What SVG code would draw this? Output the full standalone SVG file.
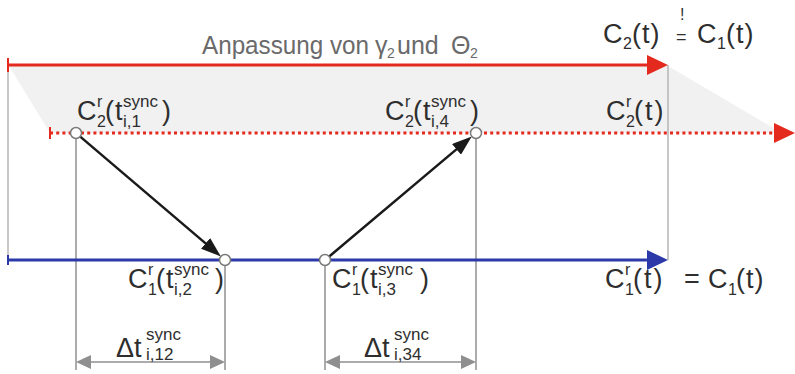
<svg xmlns="http://www.w3.org/2000/svg" width="795" height="374" viewBox="0 0 795 374">
<style>
text{font-family:"Liberation Sans",Arial,sans-serif;fill:#2e2e2e}
.m{font-size:27px}
.p{font-size:27px;letter-spacing:1px}
.p2{font-size:27px;letter-spacing:2px}
.s{font-size:16px}
.ix{font-size:17px}
.t{font-size:25px;fill:#6a6a6a}
.ts{font-size:14px;fill:#6a6a6a}
.gl{stroke:#8f8f8f;stroke-width:1.5;fill:none}
.lg{stroke:#b5b5b5;stroke-width:1.5;fill:none}
.pt{fill:#fff;stroke:#7a7a7a;stroke-width:1.5}
</style>
<defs>
<marker id="arR" markerUnits="userSpaceOnUse" viewBox="0 0 21 20" markerWidth="21" markerHeight="20" refX="11" refY="10" orient="auto"><path d="M0,0 L21,10 L0,20 z" fill="#e42a1f"/></marker>
<marker id="arB" markerUnits="userSpaceOnUse" viewBox="0 0 21 20" markerWidth="21" markerHeight="20" refX="11" refY="10" orient="auto"><path d="M0,0 L21,10 L0,20 z" fill="#2b3aa8"/></marker>
<marker id="arK" markerUnits="userSpaceOnUse" viewBox="0 0 20 14" markerWidth="20" markerHeight="14" refX="10" refY="7" orient="auto"><path d="M0,0 L20,7 L0,14 z" fill="#1a1a1a"/></marker>
<marker id="arG" markerUnits="userSpaceOnUse" viewBox="0 0 15 14" markerWidth="15" markerHeight="14" refX="7" refY="7" orient="auto-start-reverse"><path d="M0,0 L15,7 L0,14 z" fill="#8f8f8f"/></marker>
</defs>

<g id="band">
<polygon points="9,66 668,66 782,133 50,133" fill="#f1f1f1"/>
</g>

<g id="guides">
<line class="lg" x1="8" y1="65" x2="8" y2="260"/>
<line class="lg" x1="668" y1="65" x2="668" y2="260"/>
<line class="gl" x1="76" y1="138" x2="76" y2="370"/>
<line class="gl" x1="225" y1="265" x2="225" y2="370"/>
<line class="gl" x1="325" y1="265" x2="325" y2="370"/>
<line class="gl" x1="476" y1="138" x2="476" y2="370"/>
</g>

<g id="connectors">
<line x1="8" y1="65" x2="658" y2="65" stroke="#e42a1f" stroke-width="3" marker-end="url(#arR)"/>
<line x1="8" y1="58" x2="8" y2="72" stroke="#e42a1f" stroke-width="2"/>
<line x1="50" y1="133" x2="785" y2="133" stroke="#e42a1f" stroke-width="3" stroke-dasharray="3 3.2" marker-end="url(#arR)"/>
<line x1="50" y1="127" x2="50" y2="139" stroke="#e42a1f" stroke-width="2"/>
<line x1="8" y1="260" x2="658" y2="260" stroke="#2b3aa8" stroke-width="3" marker-end="url(#arB)"/>
<line x1="8" y1="255" x2="8" y2="265" stroke="#2b3aa8" stroke-width="2"/>
<line x1="80.2" y1="136.6" x2="213.2" y2="249.9" stroke="#1a1a1a" stroke-width="2.5" marker-end="url(#arK)"/>
<line x1="329.2" y1="256.5" x2="464.1" y2="142.9" stroke="#1a1a1a" stroke-width="2.5" marker-end="url(#arK)"/>
<line class="gl" x1="84" y1="362" x2="217" y2="362" marker-start="url(#arG)" marker-end="url(#arG)"/>
<line class="gl" x1="333" y1="362" x2="468" y2="362" marker-start="url(#arG)" marker-end="url(#arG)"/>
</g>

<g id="points">
<circle class="pt" cx="76" cy="133" r="5.5"/>
<circle class="pt" cx="476" cy="133" r="5.5"/>
<circle class="pt" cx="225" cy="260" r="5.5"/>
<circle class="pt" cx="325" cy="260" r="5.5"/>
</g>

<g id="title">
<text class="t" x="202" y="54" textLength="167" lengthAdjust="spacingAndGlyphs">Anpassung von</text>
<text class="t" x="375" y="54">γ</text>
<text class="ts" x="387" y="58">2</text>
<text class="t" x="397" y="54">und</text>
<text class="t" x="451" y="54">Θ</text>
<text class="ts" x="470" y="58">2</text>
</g>

<g id="eq-top">
<text class="m" x="603" y="43">C</text>
<text class="s" x="623" y="49">2</text>
<text class="p" x="632" y="43">(t)</text>
<text x="680" y="20" style="font-size:16px">!</text>
<text x="676" y="43" style="font-size:18px">=</text>
<text class="m" x="697" y="43">C</text>
<text class="s" x="717" y="49">1</text>
<text class="p" x="726" y="43">(t)</text>
</g>

<g id="label-c2-t1">
<text class="m" x="77" y="120">C</text>
<text class="s" x="97" y="107">r</text>
<text class="s" x="97" y="127">2</text>
<text class="p" x="105" y="120">(t</text>
<text class="ix" x="123" y="107">sync</text>
<text class="ix" x="123" y="127">i,1</text>
<text class="m" x="162" y="120">)</text>
</g>

<g id="label-c2-t4">
<text class="m" x="385" y="120">C</text>
<text class="s" x="405" y="107">r</text>
<text class="s" x="405" y="127">2</text>
<text class="p" x="413" y="120">(t</text>
<text class="ix" x="431" y="107">sync</text>
<text class="ix" x="431" y="127">i,4</text>
<text class="m" x="470" y="120">)</text>
</g>

<g id="label-c2-t">
<text class="m" x="606" y="120">C</text>
<text class="s" x="626" y="107">r</text>
<text class="s" x="626" y="127">2</text>
<text class="p2" x="634" y="120">(t)</text>
</g>

<g id="label-c1-t2">
<text class="m" x="128" y="288">C</text>
<text class="s" x="148" y="275">r</text>
<text class="s" x="148" y="295">1</text>
<text class="p" x="156" y="288">(t</text>
<text class="ix" x="174" y="275">sync</text>
<text class="ix" x="174" y="295">i,2</text>
<text class="m" x="215" y="288">)</text>
</g>

<g id="label-c1-t3">
<text class="m" x="332" y="288">C</text>
<text class="s" x="352" y="275">r</text>
<text class="s" x="352" y="295">1</text>
<text class="p" x="360" y="288">(t</text>
<text class="ix" x="378" y="275">sync</text>
<text class="ix" x="378" y="295">i,3</text>
<text class="m" x="420" y="288">)</text>
</g>

<g id="eq-bottom">
<text class="m" x="605" y="288">C</text>
<text class="s" x="625" y="275">r</text>
<text class="s" x="625" y="295">1</text>
<text class="p2" x="633" y="288">(t)</text>
<text class="m" x="684" y="288">=</text>
<text class="m" x="708" y="288">C</text>
<text class="s" x="728" y="295">1</text>
<text class="p" x="736" y="288">(t)</text>
</g>

<g id="dt-12">
<text class="m" x="116" y="357">Δt</text>
<text class="ix" x="146" y="340">sync</text>
<text class="ix" x="146" y="360">i,12</text>
</g>

<g id="dt-34">
<text class="m" x="364" y="357">Δt</text>
<text class="ix" x="394" y="340">sync</text>
<text class="ix" x="394" y="360">i,34</text>
</g>
</svg>
